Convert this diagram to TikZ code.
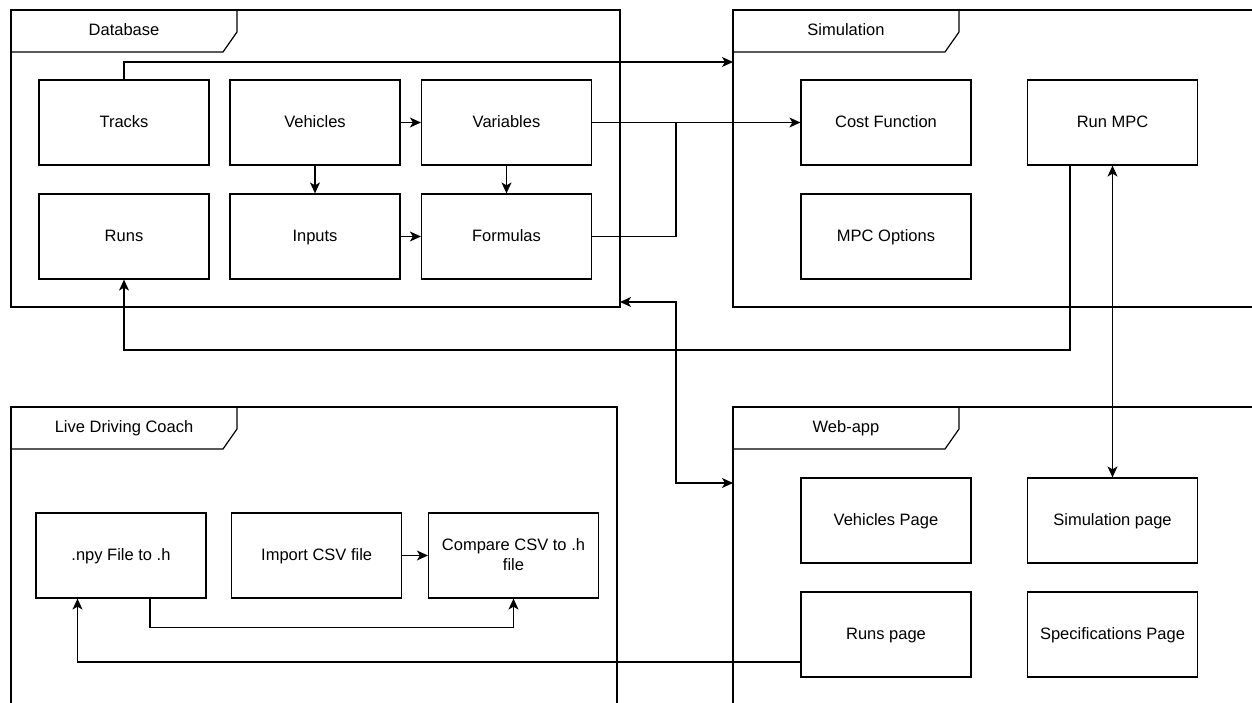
\documentclass[tikz,border=0pt]{standalone}
\usepackage{fontspec}
\setmainfont{Liberation Sans}
\usetikzlibrary{arrows.meta,calc}

% line box used for every label so that all texts share one baseline
\newcommand\lblstrut{\rule[-3pt]{0pt}{16pt}}

\tikzset{
  box/.style={draw, line width=1.2pt, minimum width=170pt, minimum height=85pt,
              inner sep=0pt, align=center, font=\fontsize{16.5}{20}\selectfont},
  frame/.style={draw, line width=1.2pt},
  tablabel/.style={font=\fontsize{16.5}{20}\selectfont, inner sep=0pt},
  link/.style={line width=1.2pt},
  arr/.style={link, -{Stealth[length=11pt,width=10pt,inset=3pt]}},
  dbl/.style={link, {Stealth[length=11pt,width=10pt,inset=3pt]}-{Stealth[length=11pt,width=10pt,inset=3pt]}}
}

\begin{document}
\begin{tikzpicture}[x=1pt, y=-1pt]
  \path[use as bounding box] (0,0) rectangle (1252,703);
  \fill[white] (0,0) rectangle (1252,703);
  \clip (0,0) rectangle (1252,703);

  % UML-style frames with a cut-corner name tab
  \foreach \fx/\fy/\fw/\fh/\fname in {11/10/609/297/Database, 733/10/560/297/Simulation,
      11/407/606/320/Live Driving Coach, 733/407/560/320/Web-app}{
    \draw[frame] (\fx,\fy) rectangle ++(\fw,\fh);
    \draw[frame] (\fx,\fy+42) -- ++(212,0) -- ++(14,-20) -- ++(0,-22);
    \node[tablabel] at (\fx+113,\fy+21) {\lblstrut\fname};
  }

  % Database
  \node[box] (tracks)    at (124,122.5)   {\lblstrut Tracks};
  \node[box] (vehicles)  at (315,122.5)   {\lblstrut Vehicles};
  \node[box] (variables) at (506.5,122.5) {\lblstrut Variables};
  \node[box] (runs)      at (124,236.5)   {\lblstrut Runs};
  \node[box] (inputs)    at (315,236.5)   {\lblstrut Inputs};
  \node[box] (formulas)  at (506.5,236.5) {\lblstrut Formulas};

  % Simulation
  \node[box] (cost)    at (886,122.5)    {\lblstrut Cost Function};
  \node[box] (runmpc)  at (1112.5,122.5) {\lblstrut Run MPC};
  \node[box] (options) at (886,236.5)    {\lblstrut MPC Options};

  % Web-app
  \node[box] (vehpage)  at (886,520.5)    {\lblstrut Vehicles Page};
  \node[box] (simpage)  at (1112.5,520.5) {\lblstrut Simulation page};
  \node[box] (runspage) at (886,634.5)    {\lblstrut Runs page};
  \node[box] (specpage) at (1112.5,634.5) {\lblstrut Specifications Page};

  % Live Driving Coach
  \node[box] (npy)     at (121,555.5)   {\lblstrut .npy File to .h};
  \node[box] (import)  at (316.7,555.5) {\lblstrut Import CSV file};
  \node[box] (compare) at (513.5,555.5) {\lblstrut Compare CSV to .h\\\lblstrut file};

  % ports on the frames
  \coordinate (simIn)  at (733,62);
  \coordinate (dbPort) at (620,302);
  \coordinate (webIn)  at (733,483);
  \coordinate (join)   at (676,122.5);
  \coordinate (busY)   at (0,350);

  % connectors inside the database
  \draw[arr] (vehicles.east) -- (variables.west);
  \draw[arr] (vehicles.south) -- (inputs.north);
  \draw[arr] (variables.south) -- (formulas.north);
  \draw[arr] (inputs.east) -- (formulas.west);

  % database to simulation
  \draw[arr] (tracks.north) |- (simIn);
  \draw[arr] (variables.east) -- (cost.west);
  \draw[link] (formulas.east) -| (join);

  % simulation results back to runs
  \draw[arr] ([xshift=-42.5pt]runmpc.south) |- (runs.south |- busY) -- (runs.south);

  % web-app links
  \draw[dbl] (runmpc.south) -- (simpage.north);
  \draw[dbl] (dbPort) -- ++(56,0) |- (webIn);
  \draw[arr] ([yshift=-27.5pt]runspage.west) -| ([xshift=-43.5pt]npy.south);

  % live driving coach
  \draw[arr] (import.east) -- (compare.west);
  \draw[arr] ([xshift=29pt]npy.south) -- ++(0,29) -| (compare.south);
\end{tikzpicture}
\end{document}
